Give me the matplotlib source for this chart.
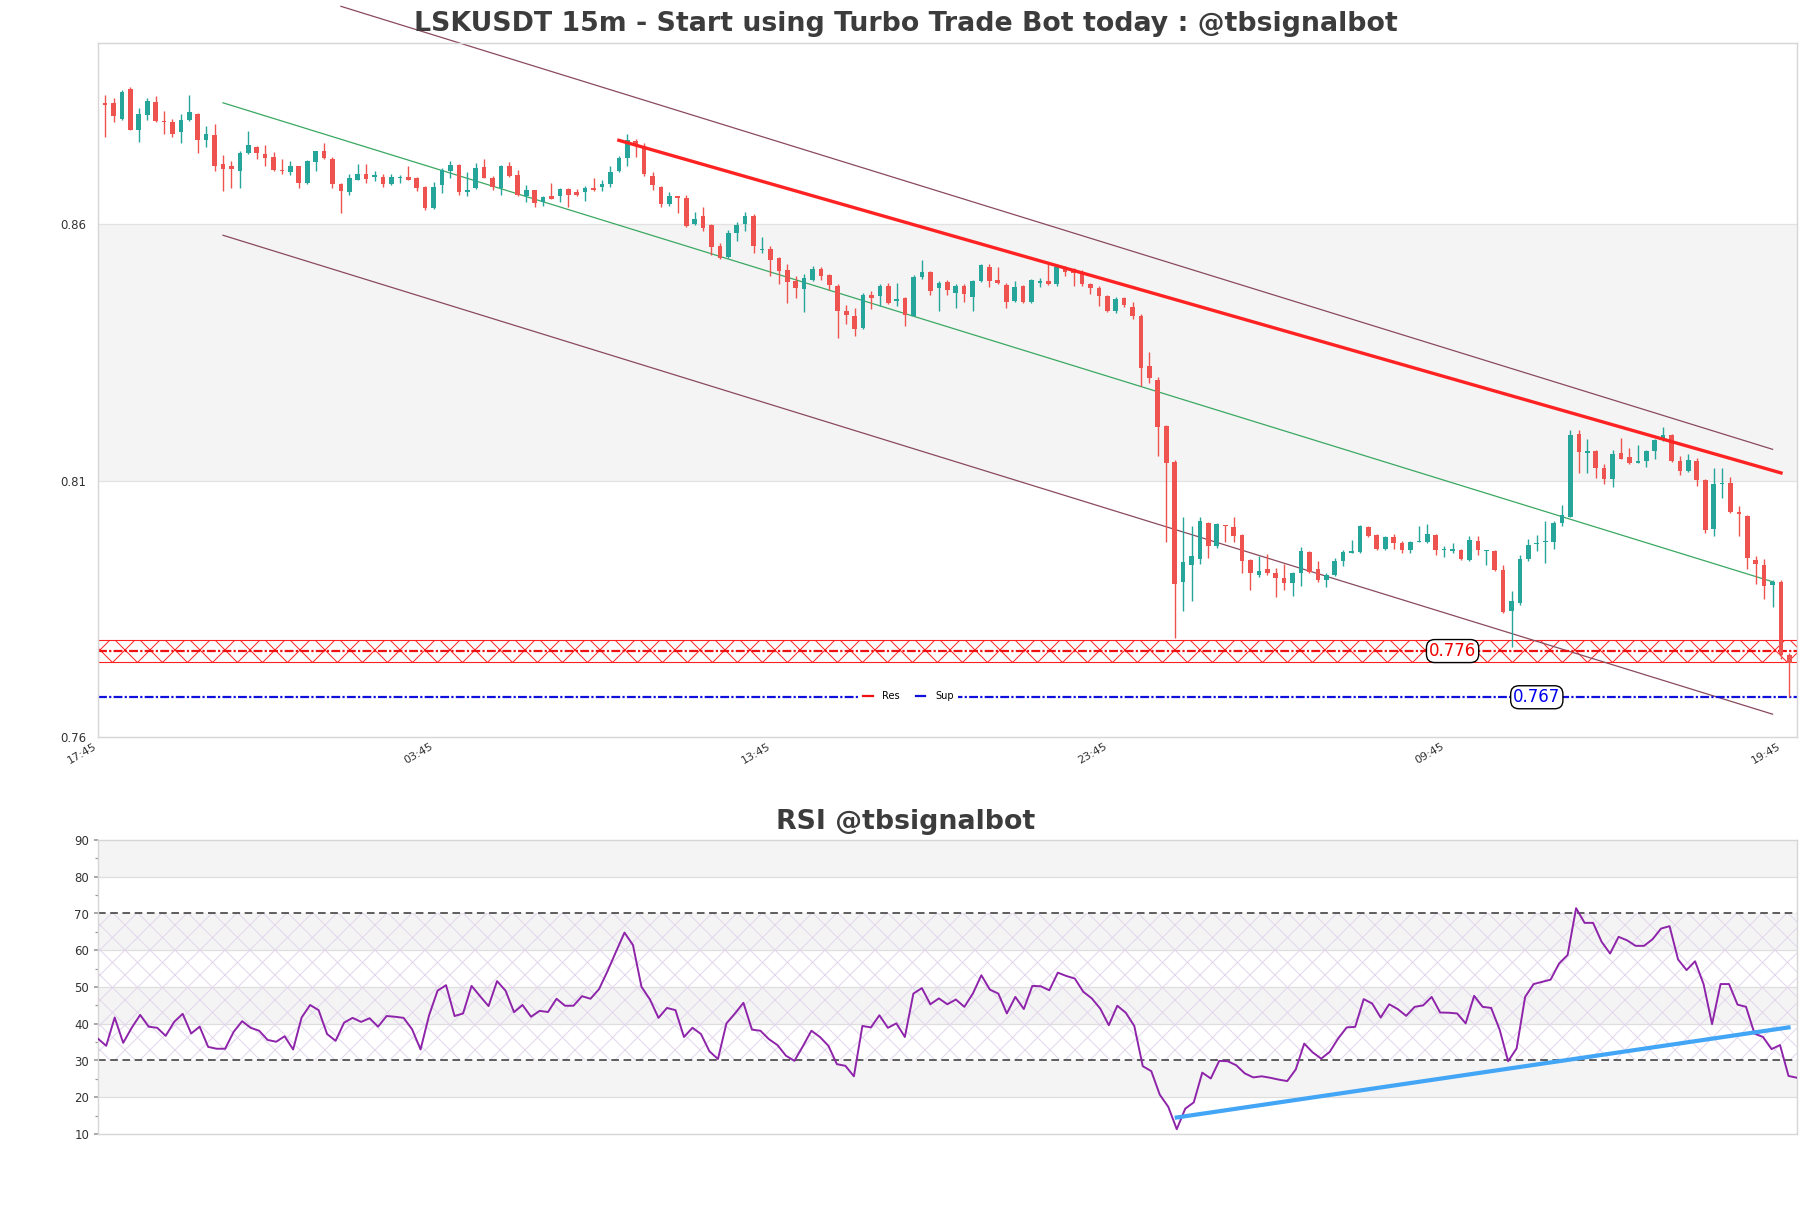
import numpy as np
import matplotlib
matplotlib.use("Agg")
import matplotlib.pyplot as plt
from matplotlib.lines import Line2D
import matplotlib.transforms as mtransforms

# ---------------- data ----------------
tick_labels = ["17:45", "03:45", "13:45", "23:45", "09:45", "19:45"]
tick_pos = [0, 40, 80, 120, 160, 200]

opens = [.8835,.8836,.8805,.8862,.8784,.8813,.8838,.8801,.8799,.8779,.8803,.8815,.8764,.8774,.8717,.8712,.8704,.8738,.8750,.8737,
 .8731,.8706,.8701,.8713,.8680,.8721,.8742,.8726,.8678,.8662,.8686,.8697,.8692,.8692,.8678,.8689,.8692,.8690,.8672,.8631,
 .8675,.8704,.8715,.8662,.8670,.8711,.8690,.8670,.8712,.8696,.8654,.8666,.8643,.8654,.8655,.8668,.8663,.8663,.8670,.8672,
 .8678,.8703,.8729,.8762,.8752,.8694,.8672,.8639,.8654,.8651,.8599,.8615,.8598,.8557,.8536,.8583,.8600,.8616,.8549,.8552,
 .8534,.8510,.8488,.8473,.8490,.8512,.8501,.8480,.8430,.8420,.8397,.8462,.8459,.8480,.8450,.8456,.8421,.8496,.8507,.8475,
 .8486,.8465,.8480,.8458,.8489,.8516,.8491,.8481,.8450,.8479,.8448,.8485,.8488,.8483,.8516,.8512,.8507,.8484,.8475,.8459,
 .8430,.8455,.8438,.8421,.8323,.8297,.8207,.8137,.7902,.7936,.7947,.8018,.7973,.8014,.8010,.7995,.7946,.7916,.7928,.7920,
 .7910,.7901,.7920,.7961,.7928,.7906,.7916,.7944,.7959,.7961,.8010,.7995,.7966,.7991,.7979,.7965,.7980,.7981,.7995,.7964,
 .7963,.7965,.7946,.7983,.7962,.7962,.7925,.7846,.7862,.7948,.7976,.7981,.7981,.8017,.8030,.8190,.8154,.8157,.8125,.8103,
 .8153,.8147,.8135,.8138,.8157,.8179,.8188,.8138,.8119,.8139,.8102,.8006,.8094,.8096,.8039,.8032,.7946,.7936,.7897,.7902,
 .7760]
highs = [.8852,.8846,.8861,.8866,.8825,.8846,.8850,.8820,.8805,.8815,.8852,.8817,.8790,.8795,.8734,.8722,.8743,.8781,.8752,.8754,
 .8741,.8727,.8722,.8713,.8725,.8743,.8758,.8731,.8680,.8697,.8717,.8716,.8704,.8698,.8698,.8696,.8712,.8692,.8674,.8682,
 .8709,.8723,.8716,.8701,.8719,.8727,.8694,.8715,.8721,.8706,.8675,.8667,.8655,.8680,.8670,.8671,.8668,.8674,.8689,.8685,
 .8713,.8732,.8776,.8766,.8758,.8701,.8674,.8662,.8654,.8657,.8623,.8634,.8599,.8563,.8589,.8604,.8624,.8619,.8575,.8557,
 .8536,.8522,.8498,.8502,.8518,.8516,.8503,.8483,.8443,.8436,.8465,.8469,.8484,.8485,.8485,.8458,.8501,.8529,.8509,.8488,
 .8491,.8484,.8484,.8490,.8522,.8522,.8516,.8485,.8488,.8481,.8492,.8494,.8522,.8520,.8518,.8514,.8510,.8485,.8479,.8461,
 .8457,.8457,.8448,.8424,.8350,.8301,.8208,.8141,.8029,.8012,.8029,.8020,.8018,.8014,.8030,.7997,.7948,.7954,.7958,.7930,
 .7938,.7922,.7970,.7963,.7943,.7920,.7950,.7965,.7985,.8014,.8011,.7997,.7993,.7997,.7983,.7983,.8011,.8016,.7997,.7973,
 .7979,.7966,.7992,.7992,.7965,.7965,.7936,.7885,.7955,.7986,.7995,.8022,.8021,.8053,.8198,.8198,.8182,.8160,.8133,.8160,
 .8184,.8164,.8170,.8159,.8182,.8204,.8190,.8148,.8151,.8145,.8104,.8125,.8125,.8108,.8051,.8033,.7954,.7948,.7907,.7907,
 .7764]
lows = [.8770,.8798,.8803,.8783,.8760,.8802,.8799,.8775,.8770,.8758,.8801,.8739,.8749,.8703,.8664,.8671,.8670,.8737,.8727,.8713,
 .8703,.8698,.8696,.8670,.8678,.8703,.8726,.8671,.8621,.8657,.8685,.8680,.8683,.8672,.8675,.8680,.8685,.8664,.8627,.8629,
 .8660,.8690,.8656,.8654,.8668,.8689,.8666,.8657,.8692,.8654,.8643,.8633,.8635,.8648,.8643,.8633,.8654,.8645,.8664,.8664,
 .8672,.8701,.8713,.8731,.8694,.8666,.8634,.8635,.8621,.8594,.8598,.8586,.8539,.8532,.8534,.8566,.8586,.8543,.8543,.8499,
 .8483,.8446,.8455,.8428,.8488,.8490,.8471,.8377,.8405,.8381,.8395,.8434,.8440,.8444,.8440,.8401,.8420,.8492,.8461,.8430,
 .8461,.8436,.8448,.8430,.8487,.8477,.8484,.8436,.8448,.8447,.8447,.8477,.8481,.8480,.8498,.8479,.8479,.8463,.8440,.8428,
 .8426,.8439,.8414,.8284,.8290,.8148,.7981,.7794,.7846,.7866,.7938,.7950,.7969,.7981,.7981,.7920,.7887,.7912,.7917,.7873,
 .7887,.7876,.7895,.7920,.7903,.7893,.7914,.7934,.7959,.7959,.7991,.7965,.7965,.7966,.7959,.7959,.7980,.7979,.7956,.7951,
 .7959,.7946,.7944,.7956,.7935,.7924,.7842,.7775,.7858,.7943,.7963,.7940,.7967,.8012,.8029,.8115,.8115,.8106,.8094,.8088,
 .8142,.8133,.8135,.8126,.8143,.8178,.8137,.8111,.8117,.8090,.7998,.7992,.8067,.8036,.7993,.7928,.7899,.7869,.7854,.7752,
 .7678]
closes = [.8832,.8811,.8858,.8784,.8815,.8840,.8801,.8798,.8776,.8803,.8819,.8764,.8776,.8713,.8708,.8708,.8738,.8754,.8738,.8729,
 .8706,.8703,.8712,.8680,.8723,.8742,.8729,.8678,.8664,.8690,.8697,.8688,.8696,.8678,.8692,.8691,.8686,.8670,.8631,.8672,
 .8706,.8715,.8662,.8666,.8710,.8690,.8672,.8713,.8694,.8656,.8666,.8641,.8652,.8649,.8668,.8656,.8656,.8670,.8666,.8678,
 .8701,.8729,.8764,.8752,.8697,.8675,.8639,.8655,.8651,.8596,.8610,.8592,.8555,.8534,.8583,.8598,.8616,.8557,.8551,.8529,
 .8508,.8487,.8475,.8494,.8512,.8499,.8481,.8430,.8422,.8395,.8462,.8455,.8480,.8447,.8454,.8422,.8496,.8506,.8470,.8485,
 .8471,.8480,.8464,.8489,.8520,.8489,.8485,.8448,.8477,.8448,.8491,.8488,.8483,.8516,.8507,.8504,.8484,.8475,.8459,.8430,
 .8454,.8442,.8420,.8319,.8299,.8205,.8135,.7899,.7942,.7954,.8021,.7973,.8016,.8011,.7993,.7944,.7920,.7924,.7920,.7910,
 .7901,.7921,.7963,.7922,.7906,.7917,.7943,.7961,.7962,.8011,.7993,.7967,.7991,.7979,.7965,.7981,.7983,.7996,.7965,.7966,
 .7966,.7947,.7985,.7965,.7965,.7926,.7844,.7866,.7948,.7975,.7979,.7983,.8018,.8033,.8188,.8156,.8157,.8125,.8104,.8151,
 .8143,.8134,.8138,.8157,.8179,.8188,.8138,.8118,.8141,.8102,.8003,.8094,.8096,.8039,.8035,.7950,.7938,.7895,.7903,.7760,
 .7745]

rsi = [36.0,34.0,41.7,34.8,38.9,42.4,39.2,38.9,36.7,40.5,42.7,37.35,39.2,33.7,33.2,33.2,37.8,40.7,38.9,38.1,
 35.6,35.1,36.6,33.0,41.7,45.1,43.7,37.2,35.35,40.3,41.6,40.5,41.5,39.2,42.1,41.9,41.6,38.5,33.0,42.3,
 49.0,50.5,42.1,42.8,50.3,47.5,44.8,51.6,49.0,43.15,45.1,41.9,
 43.5,43.2,46.8,44.9,44.9,47.5,46.8,49.4,54.3,59.6,64.8,61.4,50.05,46.6,41.6,44.3,43.7,36.4,38.9,37.2,
 32.5,30.4,40.1,42.8,45.7,38.4,38.1,35.8,34.2,31.3,29.9,33.9,38.1,36.4,34.0,29.0,28.55,25.7,39.4,39.0,
 42.3,38.9,40.1,36.4,48.2,49.7,45.3,46.9,45.3,46.6,44.6,
 48.2,53.2,49.3,48.2,42.8,47.3,44.0,50.3,50.2,49.1,53.9,53.0,52.3,48.7,46.9,44.1,39.6,44.9,43.0,39.4,
 28.45,27.1,20.7,17.4,11.3,16.9,18.6,26.7,25.1,29.9,29.8,28.7,26.5,25.4,25.7,25.3,24.8,24.4,27.55,34.6,
 32.2,30.5,32.35,36.0,39.0,39.15,46.7,45.5,41.7,45.3,44.0,42.15,44.6,45.0,47.3,43.05,43.0,42.8,40.1,47.6,
 44.6,44.3,38.4,29.8,33.3,47.3,50.8,51.4,52.0,56.4,58.7,71.45,67.45,67.45,62.3,59.1,63.65,62.7,61.2,61.2,
 63.0,65.9,66.55,57.5,54.6,57.0,50.8,39.9,50.8,50.8,45.2,44.6,37.3,36.4,33.1,34.2,25.8,25.3]

res_level = 0.7768
sup_level = 0.7678
res_label = "0.776"
sup_label = "0.767"
res_label_x = 160
sup_label_x = 170

mid_x = [14, 198]; mid_y = [0.8836, 0.7903]
low_x = [14, 198]; low_y = [0.8578, 0.7645]
up_x = [28, 198]; up_y = [0.9024, 0.8161]
trend_x = [61, 199]; trend_y = [0.8763, 0.8115]
rsi_trend_x = [127, 199]; rsi_trend_y = [14.5, 39.0]

# ---------------- figure ----------------
W, H = 1811, 1208
DPI = 150
S = 100.0 / DPI          # size factor (sizes tuned in 100-dpi points)
fig = plt.figure(figsize=(W / DPI + 1e-4, H / DPI + 1e-4), dpi=DPI)
fig.patch.set_facecolor("white")
plt.rcParams["hatch.linewidth"] = 0.7 * S

ax = fig.add_axes([97.7 / W, 1 - 737.3 / H, (1797 - 97.7) / W, (737.3 - 43.3) / H])
rx = fig.add_axes([97.7 / W, 1 - 1134 / H, (1797 - 97.7) / W, (1134 - 840) / H])

spine_c = "#d6d6d6"
for a in (ax, rx):
    for s in a.spines.values():
        s.set_color(spine_c)
        s.set_linewidth(1.0 * S)

# ---- main price axes ----
n = len(opens)
x = np.arange(n)
o = np.array(opens); h = np.array(highs); l = np.array(lows); c = np.array(closes)
up = c >= o
col = np.where(up, "#26a69a", "#ef5350")

ax.axhspan(0.81, 0.86, color="#f4f4f4", zorder=0, lw=0)
for yv in (0.81, 0.86):
    ax.axhline(yv, color="#e2e2e2", lw=0.9 * S, zorder=0.5)

ax.vlines(x, l, h, colors=col, lw=1.0 * S, zorder=3)
body_b = np.minimum(o, c)
body_h = np.maximum(np.abs(c - o), 0.00009)
ax.bar(x, body_h, bottom=body_b, width=0.55, color=col, lw=0, zorder=4)

# channel
ax.plot(mid_x, mid_y, color="#3aa862", lw=0.9 * S, zorder=2)
ax.plot(low_x, low_y, color="#8a4a5c", lw=0.9 * S, zorder=2)
ax.plot(up_x, up_y, color="#8a4a5c", lw=0.9 * S, zorder=2, clip_on=False)
# resistance trend
ax.plot(trend_x, trend_y, color="#ff2222", lw=2.4 * S, zorder=5)

# res / sup levels
ax.axhspan(res_level - 0.0021, res_level + 0.0021, facecolor="none",
           edgecolor="#ff2020", hatch="xx", lw=0.8 * S, zorder=1)
ax.axhline(res_level, color="#ee1111", lw=1.6 * S, ls=(0, (4, 1, 1, 1)), zorder=2)
ax.axhline(sup_level, color="#1010dd", lw=1.6 * S, ls=(0, (4, 1, 1, 1)), zorder=2)

bbox_kw = dict(boxstyle="round,pad=0.15,rounding_size=0.5", fc="white", ec="black", lw=1.0 * S)
ax.text(res_label_x, res_level, res_label, color="#ee0000", fontsize=12 * S, ha="center", va="center",
        zorder=7, bbox=bbox_kw)
ax.text(sup_label_x, sup_level, sup_label, color="#0000ee", fontsize=12 * S, ha="center", va="center",
        zorder=7, bbox=dict(bbox_kw))

handles = [Line2D([], [], color="#ee1111", lw=1.6 * S), Line2D([], [], color="#1010dd", lw=1.6 * S)]
leg = ax.legend(handles, ["Res", "Sup"], loc="center", bbox_to_anchor=(0.477, 0.0595), ncol=2,
                fontsize=7 * S, frameon=True, handlelength=1.0, columnspacing=1.6,
                borderpad=0.3, handletextpad=1.0)
leg.get_frame().set_facecolor("white")
leg.get_frame().set_edgecolor("white")
leg.get_frame().set_alpha(1.0)
leg.set_zorder(8)

ax.set_xlim(-0.88, n - 1 + 0.9)
ax.set_ylim(0.76, 0.8952)
ax.set_yticks([0.76, 0.81, 0.86])
ax.set_yticklabels(["0.76", "0.81", "0.86"])
ax.set_xticks(tick_pos)
ax.set_xticklabels(tick_labels, rotation=30, ha="right")
ax.tick_params(axis="x", labelsize=8 * S, colors="#333333", length=0, pad=3 * S)
ax.tick_params(axis="y", labelsize=8.5 * S, colors="#333333", length=0, pad=8 * S)
offset = mtransforms.ScaledTranslation(-7.0 / DPI, 0, fig.dpi_scale_trans)
for lab in ax.get_xticklabels():
    lab.set_transform(lab.get_transform() + offset)

# ---- RSI axes ----
for lo in (20, 40, 60, 80):
    rx.axhspan(lo, lo + 10, color="#f4f4f4", zorder=0, lw=0)
for yv in (20, 40, 50, 60, 80):
    rx.axhline(yv, color="#dedede", lw=0.9 * S, zorder=0.5)
rx.axhspan(30, 70, facecolor="none", edgecolor="#e2d6ec", hatch="xx", lw=0, zorder=0.6)
rx.axhline(70, color="#333333", lw=1.1 * S, ls=(0, (5, 3)), zorder=2)
rx.axhline(30, color="#333333", lw=1.1 * S, ls=(0, (5, 3)), zorder=2)
rx.plot(np.arange(len(rsi)), rsi, color="#8e24aa", lw=1.4 * S, zorder=3)
rx.plot(rsi_trend_x, rsi_trend_y, color="#42a5f5", lw=3.0 * S, zorder=4)
rx.set_xlim(0, len(rsi) - 1)
rx.set_ylim(10, 90)
rx.set_yticks(np.arange(10, 91, 10))
rx.set_yticks(np.arange(15, 90, 10), minor=True)
rx.set_xticks([])
rx.tick_params(axis="y", which="major", labelsize=8.5 * S, colors="#333333", length=3 * S,
               color="#999999", pad=3 * S)
rx.tick_params(axis="y", which="minor", length=2 * S, color="#999999")

# titles
fig.text(0.5, 1 - 23.5 / H, "LSKUSDT 15m - Start using Turbo Trade Bot today : @tbsignalbot",
         ha="center", va="center", fontsize=19.3 * S, fontweight="bold", color="#3c3c3c")
fig.text(0.5, 1 - 822 / H, "RSI @tbsignalbot", ha="center", va="center",
         fontsize=19.3 * S, fontweight="bold", color="#3c3c3c")

fig.savefig("out.png", dpi=DPI, facecolor="white")
